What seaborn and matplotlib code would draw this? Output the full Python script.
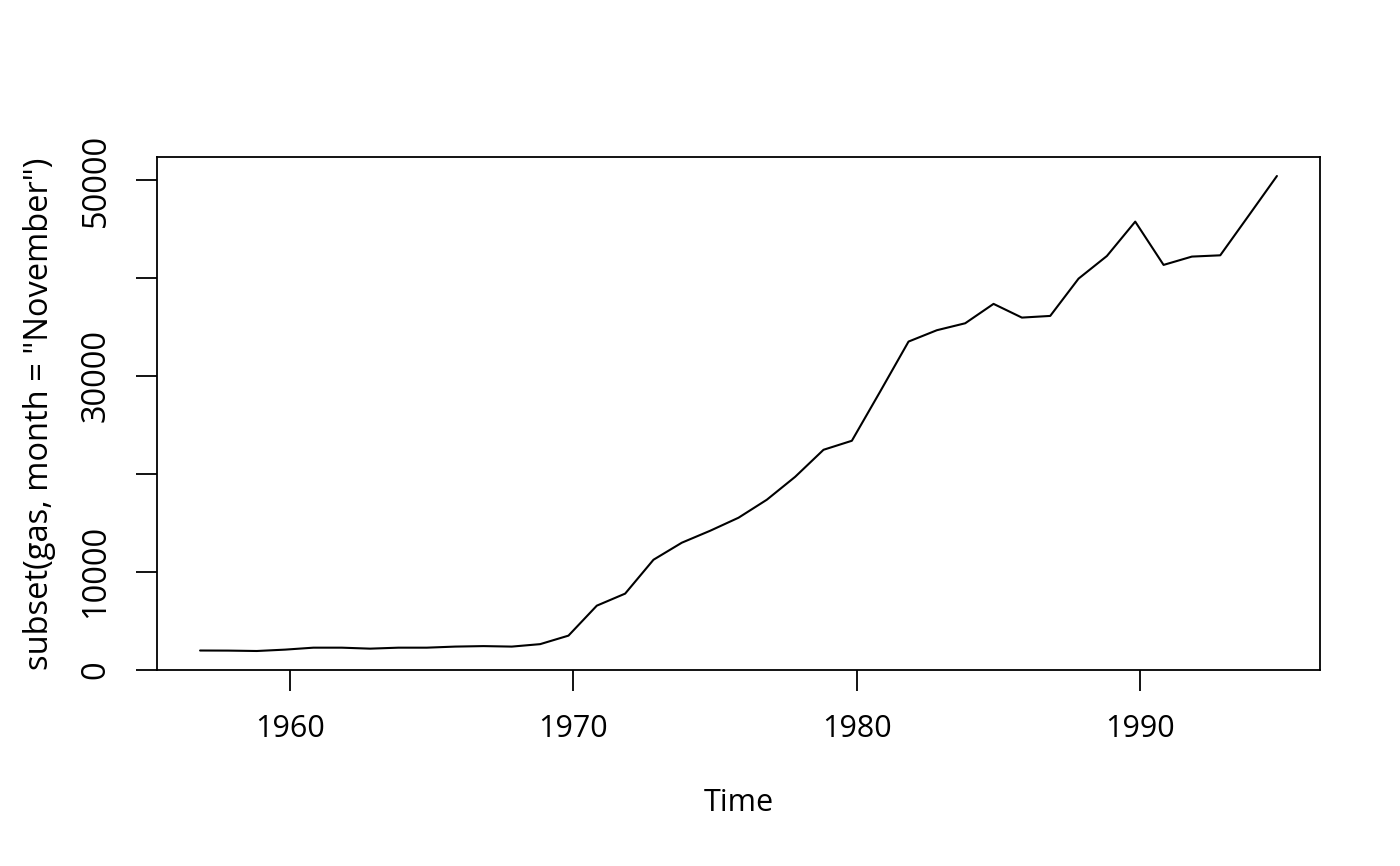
import pandas as pd
import seaborn as sns
import matplotlib.pyplot as plt

# Anos e valores de novembro (série mensal: novembro = ano + 10/12)
anos = list(range(1956, 1995))
gas_novembro = [1950, 1940, 1900, 2040, 2240, 2240, 2140, 2240, 2240, 2350,
                2400, 2350, 2600, 3470, 6530, 7760, 11220, 12960, 14180, 15510,
                17350, 19690, 22450, 23370, 28400, 33500, 34660, 35370, 37350, 35950,
                36120, 39930, 42240, 45750, 41330, 42180, 42310, 46350, 50410]

y_ticks = [0, 10000, 20000, 30000, 40000, 50000]
y_labels = ["0", "10000", "", "30000", "", "50000"]
x_ticks = [1960, 1970, 1980, 1990]

df = pd.DataFrame({"Time": [a + 10 / 12 for a in anos], "gas": gas_novembro})

sns.set_style("white")
plt.rcParams["font.family"] = ["Open Sans", "DejaVu Sans"]
plt.rcParams["text.color"] = "black"
plt.rcParams["axes.labelcolor"] = "black"

fig = plt.figure(figsize=(14, 8.66), dpi=100)
ax = fig.add_axes([157 / 1400, 1 - 670 / 866, 1163 / 1400, 513 / 866])

sns.lineplot(data=df, x="Time", y="gas", color="black", linewidth=1.5, ax=ax)

# Limites no estilo do R (4% de margem)
t0, t1 = df["Time"].min(), df["Time"].max()
ax.set_xlim(t0 - 0.04 * (t1 - t0), t1 + 0.04 * (t1 - t0))
yr = max(gas_novembro) - min(gas_novembro)
ax.set_ylim(min(gas_novembro) - 0.04 * yr, max(gas_novembro) + 0.04 * yr)

ax.set_xticks(x_ticks)
ax.set_xticklabels([str(t) for t in x_ticks], fontsize=22)
ax.set_yticks(y_ticks)
ax.set_yticklabels(y_labels, rotation=90, va="center", fontsize=23.5)

ax.tick_params(axis="both", direction="out", length=15, width=1.3, colors="black",
               bottom=True, left=True)
ax.tick_params(axis="x", pad=17)
ax.tick_params(axis="y", pad=17)

for s in ax.spines.values():
    s.set_visible(True)
    s.set_color("black")
    s.set_linewidth(1.3)

ax.set_xlabel("Time", fontsize=22, va="center")
ax.xaxis.set_label_coords(0.5, (670 - 803) / 513)
ax.set_ylabel('subset(gas, month = "November")', fontsize=23.5, va="center")
ax.yaxis.set_label_coords((40 - 157) / 1163, 0.5)

fig.savefig("out.png", dpi=100, facecolor="white")
